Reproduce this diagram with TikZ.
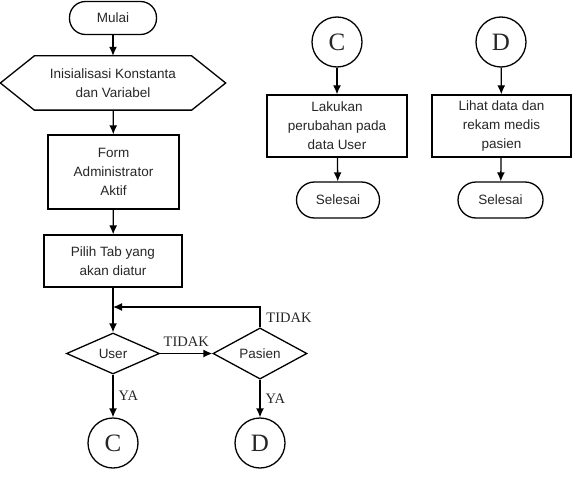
\documentclass[tikz,border=0pt]{standalone}
\usepackage{fontspec}
\setmainfont{Liberation Serif}
\setsansfont{Liberation Sans}
\usepackage{tikz}
\usetikzlibrary{shapes.geometric,arrows.meta}

\begin{document}
\begin{tikzpicture}[x=1pt,y=-1pt]
                \useasboundingbox (0,0) rectangle (580,476);
                \begin{scope}[every node/.style={line width=1.3pt, draw, align=center, inner sep=1, font=\sffamily\fontsize{13.5}{19}\selectfont, text=black!85}]
                        \node [rounded corners=16pt, minimum width=87, minimum height=33] (mulai) at (113,18) {Mulai};
                        \node [draw=none, minimum width=224, minimum height=53] (init) at (113,83) {Inisialisasi Konstanta\\dan Variabel};
                        \draw[line width=1.3pt] (init.west) -- ([xshift=34]init.north west) -- ([xshift=-34]init.north east) -- (init.east)
                                -- ([xshift=-34]init.south east) -- ([xshift=34]init.south west) -- cycle;
                        \node [minimum width=131, minimum height=74] (form) at (113.5,172) {Form\\Administrator\\Aktif};
                        \node [minimum width=138, minimum height=52] (pilih) at (113,261) {Pilih Tab yang\\akan diatur};
                        \node [diamond, inner sep=0, minimum width=93, minimum height=41] (user) at (113,353.5) {User};
                        \node [diamond, inner sep=0, minimum width=94, minimum height=41] (pasien) at (260,353.5) {Pasien};
                        \node [circle, minimum size=50, font=\rmfamily\fontsize{25}{25}\selectfont] (c1) at (113,443) {C};
                        \node [circle, minimum size=50, font=\rmfamily\fontsize{25}{25}\selectfont] (d1) at (260,443) {D};
                        \coordinate (join) at (113,307);

                        \node [circle, minimum size=50, font=\rmfamily\fontsize{25}{25}\selectfont] (c2) at (337,42) {C};
                        \node [minimum width=140, minimum height=62] (ubah) at (337,126) {Lakukan\\perubahan pada\\data User};
                        \node [rounded corners=18pt, minimum width=83, minimum height=36] (selesai1) at (338,200) {Selesai};
                        \node [circle, minimum size=50, font=\rmfamily\fontsize{25}{25}\selectfont] (d2) at (501,42) {D};
                        \node [minimum width=139, minimum height=62] (lihat) at (501.5,126) {Lihat data dan\\rekam medis\\pasien};
                        \node [rounded corners=18pt, minimum width=85, minimum height=36] (selesai2) at (500.5,200) {Selesai};
                \end{scope}

                \begin{scope}[every node/.style={inner sep=2, font=\rmfamily\fontsize{14.5}{14.5}\selectfont, text=black!85}, every path/.style={line width=1.3pt, -{Latex[length=9pt,width=8pt]}}]
                        \path (mulai) edge (init);
                        \path (init) edge (form);
                        \path (form) edge (pilih);
                        \draw (pilih) -- (user);
                        \draw (pasien.north) |- (join);
                        \node at (289,318) {TIDAK};
                        \path (user) edge node [above, yshift=4] {TIDAK} (pasien);
                        \path (user) edge node [right, xshift=3] {YA} (c1);
                        \path (pasien) edge node [right, xshift=3] {YA} (d1);
                        \path (c2) edge (ubah);
                        \path (ubah) edge (selesai1);
                        \path (d2) edge (lihat);
                        \path (lihat) edge (selesai2);
               \end{scope}
\end{tikzpicture}
\end{document}
